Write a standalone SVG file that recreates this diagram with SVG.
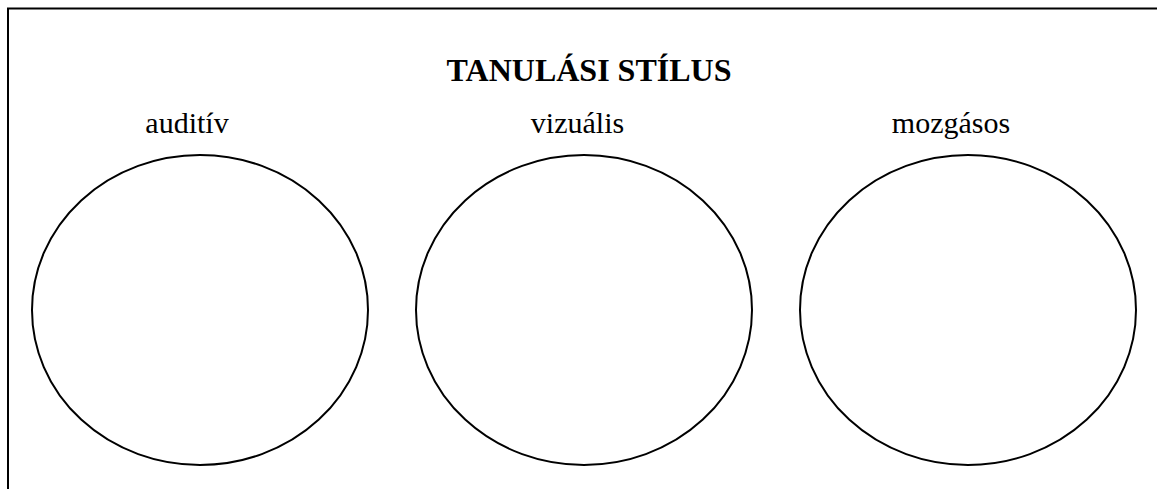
<svg xmlns="http://www.w3.org/2000/svg" width="1157" height="489" viewBox="0 0 1157 489">
<style>
.t{font-family:"Liberation Serif","Times New Roman",serif;fill:#000}
.c{fill:none;stroke:#000;stroke-width:2}
</style>
<rect width="1157" height="489" fill="#fff"/>
<path d="M8 495 V8.5 H1165" fill="none" stroke="#000" stroke-width="2"/>
<text class="t" x="589" y="81" font-size="32" font-weight="bold" text-anchor="middle">TANULÁSI STÍLUS</text>
<g id="auditiv">
<text class="t" x="187" y="133" font-size="30" text-anchor="middle">auditív</text>
<ellipse class="c" cx="200" cy="310" rx="168" ry="155"/>
</g>
<g id="vizualis">
<text class="t" x="577.5" y="133" font-size="30" text-anchor="middle">vizuális</text>
<ellipse class="c" cx="584" cy="310" rx="168" ry="155"/>
</g>
<g id="mozgasos">
<text class="t" x="951" y="133" font-size="30" text-anchor="middle">mozgásos</text>
<ellipse class="c" cx="968" cy="310" rx="168" ry="155"/>
</g>
<g id="connectors"/>
</svg>
